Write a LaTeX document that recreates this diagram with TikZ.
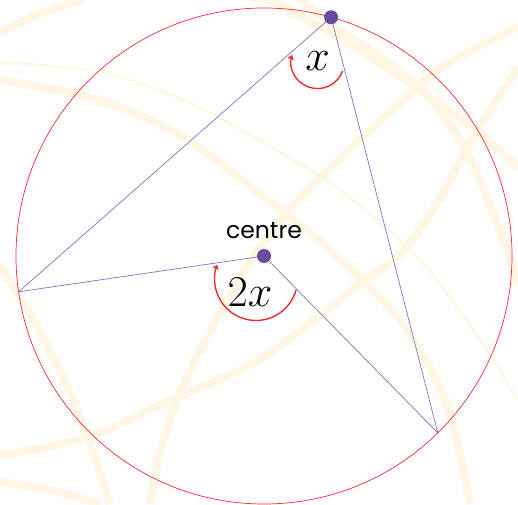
\RequirePackage{fix-cm}
\documentclass[tikz,border=0pt]{standalone}
\usepackage{fontspec}
\newfontfamily\geo{Poppins}
\usetikzlibrary{arrows.meta,calc}
\definecolor{rim}{HTML}{EE2A2F}
\definecolor{dot}{HTML}{6A4C9E}
\definecolor{lilac}{HTML}{8270C8}
\definecolor{cream}{HTML}{FFF7E4}

\begin{document}
\begin{tikzpicture}[x=1pt,y=1pt,
    ring/.style={draw=cream, line width=8pt},
    thinring/.style={draw=cream, line width=2.5pt},
    chord/.style={draw=lilac, line width=0.7pt},
    vertex/.style={circle, fill=dot, inner sep=0pt, minimum size=14pt},
    turn/.style={draw=rim, line width=1.4pt, -{Straight Barb[length=3pt,width=5pt]}},
    anglabel/.style={font=\fontsize{44}{44}\selectfont}]
  \useasboundingbox (0,0) rectangle (518,504);

  % faint rings behind
  \begin{scope}[yshift=504pt, yscale=-1]
    \clip (0,0) rectangle (518,504);
    \draw[ring] plot[smooth] coordinates {(0,80) (100,100) (183,137) (259,193) (330,250) (399,319) (446,402) (470,504)};
    \draw[thinring] plot[smooth] coordinates {(0,62) (100,72) (183,100) (259,140) (340,190) (420,260) (480,340) (518,400)};
    \draw[ring] plot[smooth] coordinates {(250,-2) (276,3) (359,50) (459,117) (518,167)};
    \draw[ring] plot[smooth] coordinates {(300,0) (336,27) (419,87) (466,150) (506,247) (518,285)};
    \draw[ring] plot[smooth] coordinates {(518,27) (442,67) (392,110) (342,157) (292,207) (250,262) (217,319) (183,385) (160,452) (150,504)};
    \draw[ring] plot[smooth] coordinates {(518,67) (476,133) (439,200) (402,252) (359,285) (259,360) (167,402) (83,439) (0,455)};
    \draw[ring] plot[smooth] coordinates {(0,265) (33,319) (67,385) (93,452) (110,504)};
    \draw[ring] plot[smooth] coordinates {(0,33) (40,14) (83,0)};
    \draw[ring] plot[smooth] coordinates {(0,482) (50,490) (100,504)};
  \end{scope}

  \coordinate (O) at (264,248);
  \coordinate (top) at ($(O)+(74.3:248)$);
  \coordinate (lft) at ($(O)+(188.3:248)$);
  \coordinate (rgt) at ($(O)+(314.5:248)$);

  \draw[rim, line width=0.7pt] (O) circle[radius=248];
  \draw[chord] (top) -- (lft) -- (O) -- (rgt) -- (top);

  \node[vertex] (topdot) at (top) {};
  \node[vertex] (middot) at (O) {};
  \node[anchor=base, font=\geo\fontsize{23.5}{23.5}\selectfont] (lbl)
    at ([yshift=10pt]middot.north) {centre};

  % angle marks
  \node[anglabel] (lx) at (317.5,443) {$x$};
  \draw[turn] (317.5,442) ++(340.3:26.6) arc[start angle=340.3, end angle=164.8, radius=26.6];
  \node[anglabel] (ltwo) at (250,212) {$2x$};
  \draw[turn] (256,225) ++(344.6:41.5) arc[start angle=344.6, end angle=160, radius=41.5];
\end{tikzpicture}
\end{document}
